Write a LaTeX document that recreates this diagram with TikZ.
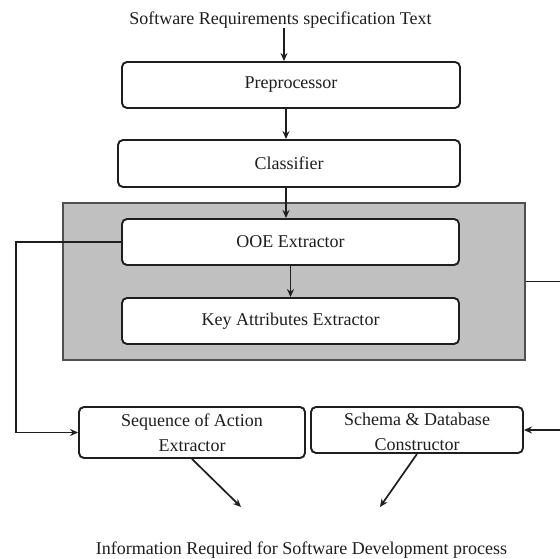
\documentclass[tikz,border=0pt]{standalone}
\usepackage{fontspec}
\setmainfont{Liberation Serif}
\usetikzlibrary{arrows.meta,positioning}
\definecolor{grpfill}{HTML}{C0C0C0}
\definecolor{grpline}{HTML}{505050}
\definecolor{ink}{HTML}{1E1E1E}
\begin{document}
\begin{tikzpicture}[x=1pt,y=-1pt,
  every node/.style={font=\fontsize{18}{25}\selectfont, text=ink, inner sep=0pt},
  procbox/.style={draw=ink, line width=1.9pt, rounded corners=5pt, fill=white, align=center},
  groupbox/.style={draw=grpline, line width=1.4pt, fill=grpfill},
  arr/.style={draw=ink, line width=1.7pt, -{Stealth[length=8pt,width=7pt]}},
  conn/.style={draw=ink, line width=1.7pt}
]
\useasboundingbox (0,0) rectangle (560,559);
% group background
\node[groupbox, minimum width=462pt, minimum height=157pt] (grp) at (294,281.5) {};
% texts
\node (title) at (280.5,20) {Software Requirements specification Text};
\node[procbox, minimum width=338pt, minimum height=46pt] (pre) at (291,85) {Preprocessor};
\node[procbox, minimum width=342pt, minimum height=47pt] (cls) at (289,163.5) {Classifier};
\node[procbox, minimum width=337pt, minimum height=46pt] (ooe) at (290.5,242) {OOE Extractor};
\node[procbox, minimum width=337pt, minimum height=46pt] (key) at (290.5,321) {Key Attributes Extractor};
\node[procbox, minimum width=226pt, minimum height=51pt] (seq) at (192,432.5) {Sequence of Action\\Extractor};
\node[procbox, minimum width=212pt, minimum height=46pt] (sch) at (417,430) {};
\node[align=center] (schtxt) at (417,432) {Schema \& Database\\Constructor};
\node (info) at (301.5,550) {Information Required for Software Development process};
% free ends
\coordinate (lx) at (16,0);
\coordinate (rx) at (563,0);
\coordinate (d1) at (241,507);
\coordinate (d2) at (380,507);
% connectors
\draw[arr] ([xshift=3.5pt]title.south) -- ([xshift=3.5pt]title.south |- pre.north);
\draw[arr] ([xshift=-5pt]pre.south) -- ([xshift=-5pt]pre.south |- cls.north);
\draw[arr] ([xshift=-3pt]cls.south) -- ([xshift=-3pt]cls.south |- ooe.north);
\draw[arr] (ooe.south) -- (key.north);
\draw[arr] (ooe.west) -- (ooe.west -| lx) -- (lx |- seq.west) -- (seq.west);
\draw[arr] (grp.east) -- (grp.east -| rx) -- (rx |- sch.east) -- (sch.east);
\draw[arr] (seq.south) -- (d1);
\draw[arr] (sch.south) -- (d2);
\end{tikzpicture}
\end{document}
